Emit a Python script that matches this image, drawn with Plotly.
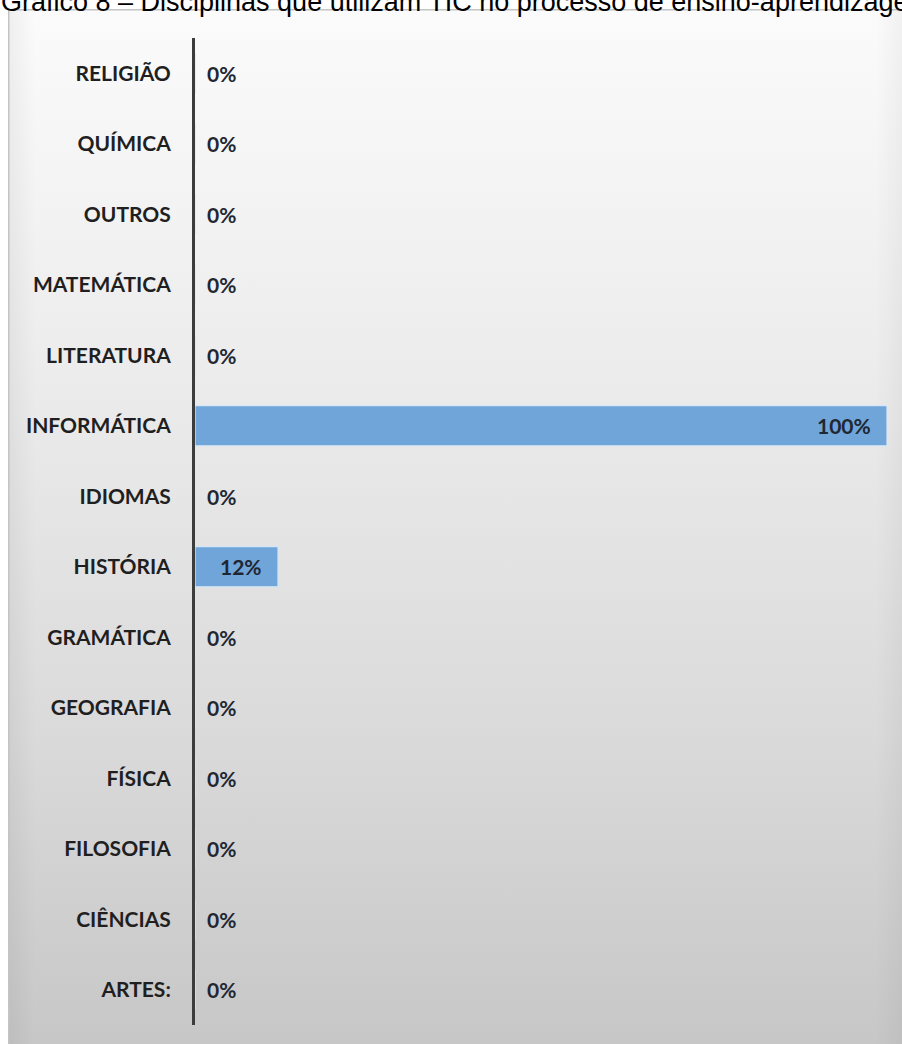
import base64
import plotly.graph_objects as go

# Disciplines (bottom to top) and share of respondents using ICT in each
categories = ["ARTES:", "CIÊNCIAS", "FILOSOFIA", "FÍSICA", "GEOGRAFIA", "GRAMÁTICA",
              "HISTÓRIA", "IDIOMAS", "INFORMÁTICA", "LITERATURA", "MATEMÁTICA",
              "OUTROS", "QUÍMICA", "RELIGIÃO"]
values = [0, 0, 0, 0, 0, 0, 12, 0, 100, 0, 0, 0, 0, 0]

title_text = "Gráfico 8 – Disciplinas que utilizam TIC no processo de ensino-aprendizagem"

W, H = 902, 1044
L, R, T, B = 195, 15, 38, 19
pw, ph = W - L - R, H - T - B


def px_to_paper_x(px):
    return (px - L) / pw


def px_to_paper_y(py):
    return (H - B - py) / ph


# Grey gradient panel behind the chart
svg = """<svg xmlns='http://www.w3.org/2000/svg' width='894' height='1035' viewBox='0 0 894 1035' preserveAspectRatio='none'>
<defs>
<linearGradient id='g' x1='0' y1='0' x2='0' y2='1'>
<stop offset='0' stop-color='#fbfbfb'/>
<stop offset='0.35' stop-color='#ececec'/>
<stop offset='0.7' stop-color='#dadada'/>
<stop offset='1' stop-color='#c7c7c7'/>
</linearGradient>
<linearGradient id='h' x1='0' y1='0' x2='1' y2='0'>
<stop offset='0' stop-color='#000' stop-opacity='0.05'/>
<stop offset='0.03' stop-color='#000' stop-opacity='0'/>
<stop offset='0.97' stop-color='#000' stop-opacity='0'/>
<stop offset='1' stop-color='#000' stop-opacity='0.04'/>
</linearGradient>
</defs>
<rect x='0' y='0' width='894' height='1035' fill='url(#g)'/>
<rect x='0' y='0' width='894' height='1035' fill='url(#h)'/>
<rect x='0.75' y='0.75' width='900' height='1040' fill='none' stroke='#c4c4c4' stroke-width='1.5'/>
</svg>"""
svg_uri = "data:image/svg+xml;base64," + base64.b64encode(svg.encode()).decode()

fig = go.Figure()
fig.add_trace(go.Bar(
    x=values,
    y=categories,
    orientation="h",
    width=0.57,
    marker=dict(color="#6fa5d9", line=dict(color="#d6e6f6", width=1.2)),
    hoverinfo="skip",
))

label_font = dict(family="Lato, 'Open Sans', sans-serif", size=21, color="#1f2733", weight="bold")

annotations = []
for cat, v in zip(categories, values):
    if v > 0:
        annotations.append(dict(x=v, y=cat, xref="x", yref="y", text=f"{v}%",
                                showarrow=False, xanchor="right", xshift=-14,
                                font=label_font))
    else:
        annotations.append(dict(x=v, y=cat, xref="x", yref="y", text=f"{v}%",
                                showarrow=False, xanchor="left", xshift=10,
                                font=label_font))

annotations.append(dict(
    x=px_to_paper_x(-1), y=px_to_paper_y(19), xref="paper", yref="paper",
    text=title_text, showarrow=False, xanchor="left", yanchor="bottom",
    font=dict(family="Arial, 'Liberation Sans', sans-serif", size=27, color="#000000"),
))

fig.update_layout(
    width=W, height=H,
    margin=dict(l=L, r=R, t=T, b=B),
    paper_bgcolor="#ffffff",
    plot_bgcolor="rgba(0,0,0,0)",
    showlegend=False,
    images=[dict(source=svg_uri, xref="paper", yref="paper",
                 x=px_to_paper_x(8), y=px_to_paper_y(9),
                 sizex=(W - 8) / pw, sizey=(H - 9) / ph,
                 xanchor="left", yanchor="top", sizing="stretch", layer="below")],
    annotations=annotations,
    xaxis=dict(range=[0, 100], visible=False, fixedrange=True),
    yaxis=dict(
        type="category",
        categoryorder="array",
        categoryarray=categories,
        range=[-0.5, len(categories) - 0.5],
        showline=True, linecolor="#3c3c3c", linewidth=3,
        showgrid=False, zeroline=False,
        ticks="", ticklabelstandoff=17,
        tickfont=dict(family="Lato, 'Open Sans', sans-serif", size=21, color="#1f1f1f", weight="bold"),
    ),
)

fig.write_html("out.html")
